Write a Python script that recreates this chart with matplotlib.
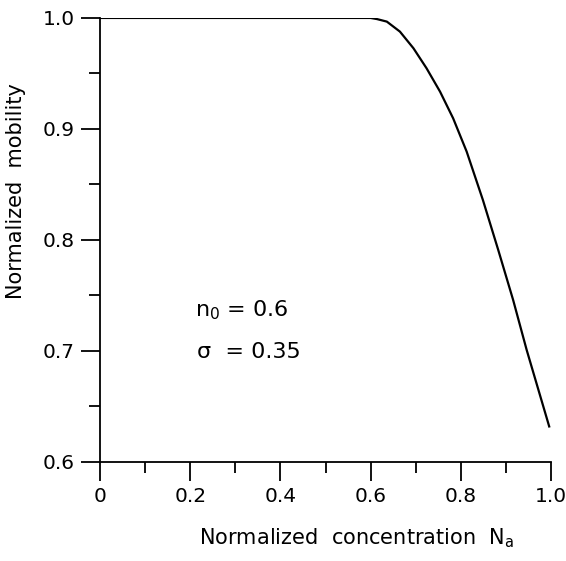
import matplotlib.pyplot as plt
from matplotlib.ticker import MultipleLocator

# Werte
konzentration = [0.0, 0.55, 0.60, 0.614, 0.636, 0.665, 0.695, 0.724, 0.754,
                 0.783, 0.813, 0.849, 0.883, 0.916, 0.946, 0.996]
mobilitaet = [1.000, 1.000, 1.000, 0.999, 0.9967, 0.9877, 0.9727, 0.9547,
              0.9336, 0.9096, 0.8796, 0.836, 0.791, 0.746, 0.701, 0.632]

x_ticks = [0, 0.2, 0.4, 0.6, 0.8, 1.0]
x_labels = ['0', '0.2', '0.4', '0.6', '0.8', '1.0']
y_ticks = [0.6, 0.7, 0.8, 0.9, 1.0]
y_labels = ['0.6', '0.7', '0.8', '0.9', '1.0']

fig = plt.figure(figsize=(5.66, 5.61), dpi=100)
ax = fig.add_axes([0.1767, 0.1765, 0.7968, 0.7915])

ax.plot(konzentration, mobilitaet, color='black', lw=1.6,
        solid_joinstyle='round')

ax.set_xlim(0, 1.0)
ax.set_ylim(0.6, 1.0)
ax.set_xticks(x_ticks)
ax.set_xticklabels(x_labels)
ax.set_yticks(y_ticks)
ax.set_yticklabels(y_labels)
ax.xaxis.set_minor_locator(MultipleLocator(0.1))
ax.yaxis.set_minor_locator(MultipleLocator(0.05))

ax.tick_params(which='major', direction='out', length=14, width=1.3,
               labelsize=14.5, pad=4)
ax.tick_params(which='minor', direction='out', length=8, width=1.3)

ax.spines['top'].set_visible(False)
ax.spines['right'].set_visible(False)
for s in ['left', 'bottom']:
    ax.spines[s].set_linewidth(1.3)

ax.set_xlabel('Normalized  concentration  $\\mathregular{N_a}$', fontsize=15)
ax.xaxis.set_label_coords(0.57, -0.145)
ax.set_ylabel('Normalized  mobility', fontsize=15)
ax.yaxis.set_label_coords(-0.165, 0.61)

ax.text(0.21, 0.737, '$\\mathregular{n_0}$ = 0.6', fontsize=16, va='center')
ax.text(0.215, 0.699, 'σ  = 0.35', fontsize=16, va='center')

fig.savefig('out.png', dpi=100)
